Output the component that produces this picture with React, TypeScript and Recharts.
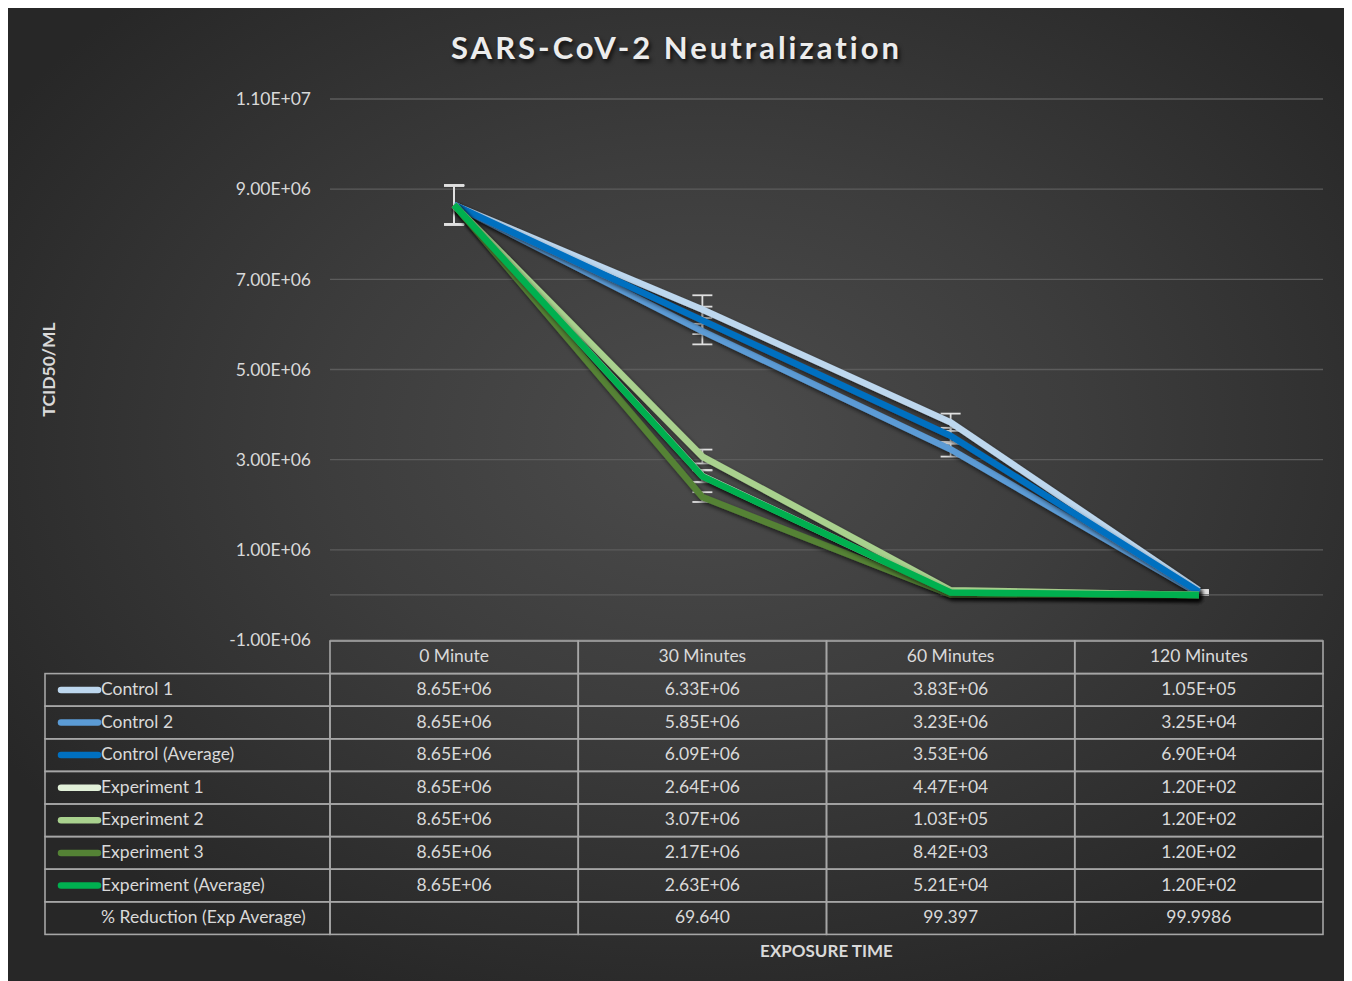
import React from "react";
import { CartesianGrid, ErrorBar, Label, Line, LineChart, ReferenceLine, XAxis, YAxis } from "recharts";

const times = ["0 Minute", "30 Minutes", "60 Minutes", "120 Minutes"];
const control1 = [8.65e6, 6.33e6, 3.83e6, 1.05e5];
const control2 = [8.65e6, 5.85e6, 3.23e6, 3.25e4];
const controlAvg = [8.65e6, 6.09e6, 3.53e6, 6.9e4];
const experiment1 = [8.65e6, 2.64e6, 4.47e4, 1.2e2];
const experiment2 = [8.65e6, 3.07e6, 1.03e5, 1.2e2];
const experiment3 = [8.65e6, 2.17e6, 8.42e3, 1.2e2];
const experimentAvg = [8.65e6, 2.63e6, 5.21e4, 1.2e2];
const reduction = ["", "69.640", "99.397", "99.9986"];
const yTicks = [-1e6, 1e6, 3e6, 5e6, 7e6, 9e6, 1.1e7];
const ERROR_PCT = 0.05;

const series = [
  { key: "c1", name: "Control 1", values: control1, color: "#bdd7ee" },
  { key: "c2", name: "Control 2", values: control2, color: "#5b9bd5" },
  { key: "cAvg", name: "Control (Average)", values: controlAvg, color: "#0070c0" },
  { key: "e1", name: "Experiment 1", values: experiment1, color: "#e2f0d9" },
  { key: "e2", name: "Experiment 2", values: experiment2, color: "#a9d18e" },
  { key: "e3", name: "Experiment 3", values: experiment3, color: "#548235" },
  { key: "eAvg", name: "Experiment (Average)", values: experimentAvg, color: "#00b050" },
];

const data = times.map((time, i) => {
  const row: Record<string, string | number> = { time };
  series.forEach((s) => {
    row[s.key] = s.values[i];
    row[s.key + "Err"] = s.values[i] * ERROR_PCT;
  });
  return row;
});

// layout (chart coords, chart sits at the 8px body margin)
const W = 1337;
const H = 973;
const PLOT_LEFT = 322;
const PLOT_RIGHT = 1315;
const PLOT_TOP = 91;
const PLOT_BOTTOM = 632;
const TABLE_LEFT = 37;
const ROW_H = 32.6;
const FONT = "Lato, 'Open Sans', sans-serif";
const TEXT = "#d9d9d9";
const BORDER = "#a6a6a6";

function sci(v: number) {
  const sign = v < 0 ? "-" : "";
  const a = Math.abs(v);
  const e = Math.floor(Math.log10(a));
  const m = (a / Math.pow(10, e)).toFixed(2);
  const ee = e < 0 ? "-" + String(-e).padStart(2, "0") : "+" + String(e).padStart(2, "0");
  return sign + m + "E" + ee;
}

const tableRows = [
  ...series.map((s) => ({ name: s.name, color: s.color as string | null, cells: s.values.map(sci) })),
  { name: "% Reduction (Exp Average)", color: null, cells: reduction },
];

function TableColumn(props: any) {
  const { x, payload } = props;
  const index = payload?.index ?? props.index ?? 0;
  const bw = (PLOT_RIGHT - PLOT_LEFT) / times.length;
  const left = x - bw / 2;
  const top = PLOT_BOTTOM + 1;
  const mid = ROW_H / 2 - 1.5;
  return (
    <g fontFamily={FONT} fontSize={17.5}>
      <rect x={left} y={top} width={bw} height={ROW_H} fill="none" stroke={BORDER} strokeWidth={1.6} />
      <text x={x} y={top + mid} textAnchor="middle" dominantBaseline="central" fill={TEXT}>
        {payload.value}
      </text>
      {tableRows.map((r, ri) => {
        const y = top + ROW_H * (ri + 1);
        return (
          <g key={r.name}>
            <rect x={left} y={y} width={bw} height={ROW_H} fill="none" stroke={BORDER} strokeWidth={1.6} />
            <text x={x} y={y + mid} textAnchor="middle" dominantBaseline="central" fill={TEXT}>
              {r.cells[index]}
            </text>
          </g>
        );
      })}
      {index === 0 &&
        tableRows.map((r, ri) => {
          const y = top + ROW_H * (ri + 1);
          return (
            <g key={"l" + r.name}>
              <rect x={TABLE_LEFT} y={y} width={PLOT_LEFT - TABLE_LEFT} height={ROW_H} fill="none" stroke={BORDER} strokeWidth={1.6} />
              {r.color && (
                <line x1={53} x2={90} y1={y + ROW_H / 2} y2={y + ROW_H / 2} stroke={r.color} strokeWidth={6.5} strokeLinecap="round" />
              )}
              <text x={93} y={y + mid} dominantBaseline="central" fill={TEXT}>
                {r.name}
              </text>
            </g>
          );
        })}
    </g>
  );
}

export default function App() {
  return (
    <div
      style={{
        position: "relative",
        width: W,
        height: H,
        background: "radial-gradient(ellipse 62% 62% at 52% 44%, #4c4c4c 0%, #3d3d3d 45%, #272727 100%)",
      }}
    >
      <div
        style={{
          position: "absolute",
          left: 0,
          width: W,
          top: 20,
          textAlign: "center",
          fontFamily: FONT,
          fontWeight: 700,
          fontSize: 31,
          letterSpacing: 3,
          color: "#ececec",
          textShadow: "2px 3px 4px rgba(0,0,0,0.75)",
        }}
      >
        SARS-CoV-2 Neutralization
      </div>
      <LineChart width={W} height={H} data={data} margin={{ top: PLOT_TOP, right: W - PLOT_RIGHT, left: 0, bottom: 0 }}>
        <defs>
          <filter id="lineShadow" x="-10%" y="-10%" width="120%" height="130%">
            <feDropShadow dx="2" dy="3" stdDeviation="2" floodColor="#000" floodOpacity="0.6" />
          </filter>
        </defs>
        <CartesianGrid stroke="#5c5c5c" strokeWidth={1.3} vertical={false} />
        <ReferenceLine y={0} stroke="#5c5c5c" strokeWidth={1.3} />
        <XAxis
          dataKey="time"
          scale="band"
          axisLine={false}
          tickLine={false}
          interval={0}
          height={H - PLOT_BOTTOM}
          tick={<TableColumn />}
        >
          <Label
            value="EXPOSURE TIME"
            position="insideBottom"
            offset={24}
            style={{ fill: TEXT, fontFamily: FONT, fontWeight: 700, fontSize: 17 }}
          />
        </XAxis>
        <YAxis
          width={PLOT_LEFT}
          domain={[-1e6, 1.1e7]}
          ticks={yTicks}
          tickFormatter={sci}
          axisLine={false}
          tickLine={false}
          tickSize={0}
          tickMargin={19}
          tick={{ fill: TEXT, fontFamily: FONT, fontSize: 17.5 }}
        >
          <Label
            content={() => (
              <text
                x={40}
                y={(PLOT_TOP + PLOT_BOTTOM) / 2}
                transform={`rotate(-90 40 ${(PLOT_TOP + PLOT_BOTTOM) / 2})`}
                textAnchor="middle"
                dominantBaseline="central"
                fill={TEXT}
                fontFamily={FONT}
                fontWeight={700}
                fontSize={17.5}
              >
                TCID50/ML
              </text>
            )}
          />
        </YAxis>
        {/* error bars sit underneath the lines, as in the original */}
        {series.map((s) => (
          <Line
            key={s.key + "-err"}
            dataKey={s.key}
            stroke="none"
            dot={false}
            activeDot={false}
            legendType="none"
            isAnimationActive={false}
            {...({ zIndex: 300 } as any)}
          >
            <ErrorBar
              dataKey={s.key + "Err"}
              width={10}
              stroke="#e0e0e0"
              strokeWidth={1.8}
              isAnimationActive={false}
              {...({ zIndex: 300 } as any)}
            />
          </Line>
        ))}
        {series.map((s) => (
          <Line
            key={s.key}
            dataKey={s.key}
            name={s.name}
            stroke={s.color}
            strokeWidth={6.5}
            dot={false}
            activeDot={false}
            filter="url(#lineShadow)"
            isAnimationActive={false}
          />
        ))}
      </LineChart>
    </div>
  );
}
